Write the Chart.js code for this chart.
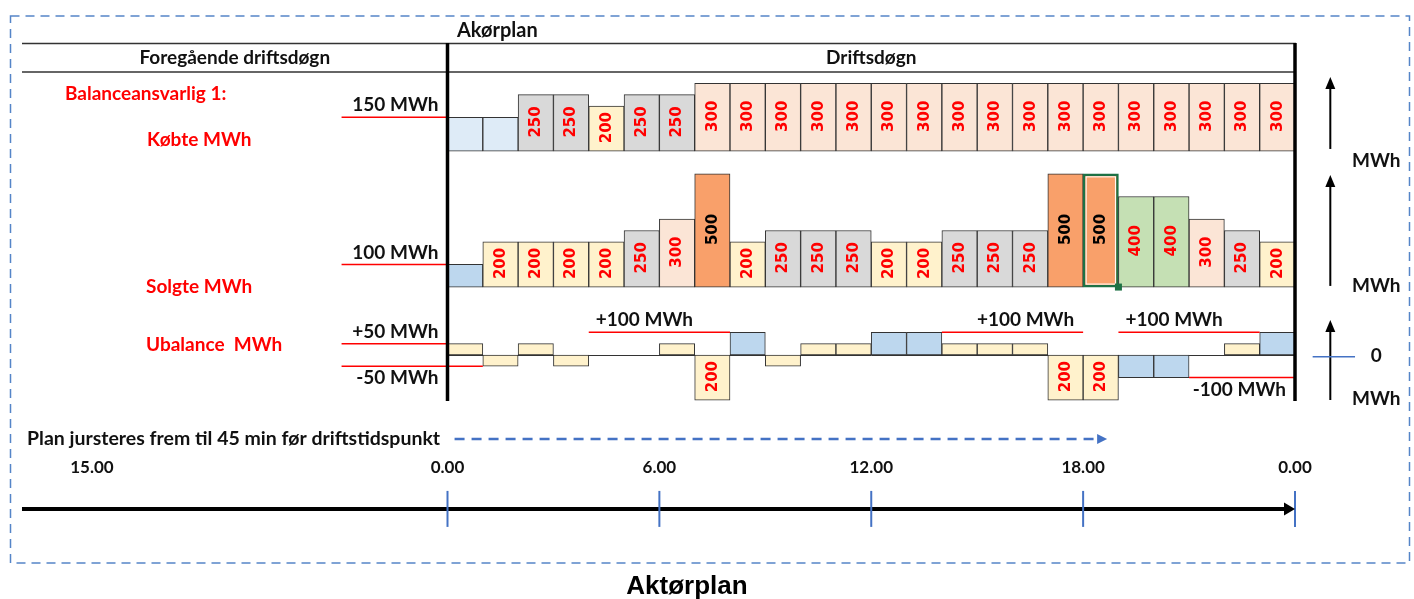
<!DOCTYPE html>
<html>
<head>
<meta charset="utf-8">
<title>Aktørplan</title>
<script src="https://cdn.jsdelivr.net/npm/chart.js@4.4.0/dist/chart.umd.min.js"></script>
<style>
  html, body { margin: 0; padding: 0; background: #fff; }
  #wrap { position: relative; width: 1414px; height: 599px; }
</style>
</head>
<body>
<div id="wrap"><canvas id="plan" width="1414" height="599"></canvas></div>
<script>
// timer i driftsdøgnet
const hours = ['1','2','3','4','5','6','7','8','9','10','11','12',
               '13','14','15','16','17','18','19','20','21','22','23','24'];

// MWh per time
const kobte    = [150,150,250,250,200,250,250,300,300,300,300,300,300,300,300,300,300,300,300,300,300,300,300,300];
const solgte   = [100,200,200,200,200,250,300,500,200,250,250,250,200,200,250,250,250,500,500,400,400,300,250,200];
const ubalance = [50,-50,50,-50,0,0,50,-200,100,-50,50,50,100,100,50,50,50,-200,-200,-100,-100,0,50,100];
const selectedHour = 19;

// referanselinjer: rad, nivå, fra/til time, tekst
const refLines = [
  { row: 'kobte',    level: 150,  from: -3, to: 0,  text: '150 MWh',  at: 0,  align: 'right', side: 'above' },
  { row: 'solgte',   level: 100,  from: -3, to: 0,  text: '100 MWh',  at: 0,  align: 'right', side: 'above' },
  { row: 'ubalance', level: 50,   from: -3, to: 0,  text: '+50 MWh',  at: 0,  align: 'right', side: 'above' },
  { row: 'ubalance', level: -50,  from: -3, to: 1,  text: '-50 MWh',  at: 0,  align: 'right', side: 'below' },
  { row: 'ubalance', level: 100,  from: 4,  to: 8,  text: '+100 MWh', at: 4,  align: 'left',  side: 'above' },
  { row: 'ubalance', level: 100,  from: 14, to: 18, text: '+100 MWh', at: 18, align: 'right', side: 'above' },
  { row: 'ubalance', level: 100,  from: 19, to: 23, text: '+100 MWh', at: 19, align: 'left',  side: 'above' },
  { row: 'ubalance', level: -100, from: 21, to: 24, text: '-100 MWh', at: 24, align: 'right', side: 'below' }
];

// tidslinje
const timeTicks  = [-10.07, 0, 6, 12, 18, 24];
const timeLabels = ['15.00', '0.00', '6.00', '12.00', '18.00', '0.00'];
const planUntil  = 18.68;

// plassering av radene på felles y-akse
const ROW_BASE = { kobte: 900, solgte: 300, ubalance: 0 };
const TIMELINE_Y = -680, TICKLABEL_Y = -495, PLAN_Y = -371;

const FONT = '"Lato", "Open Sans", sans-serif';
const RED = '#ff0000';
const BLUE = '#4472c4';
const EDGE = '#333333';

const colKobte = { 150: '#deebf7', 200: '#fff2cc', 250: '#d9d9d9', 300: '#fbe5d6' };
const colSolgte = { 100: '#bdd7ee', 200: '#fff2cc', 250: '#d9d9d9', 300: '#fbe5d6', 400: '#c5e0b4', 500: '#f9a06a' };
const colUbal = { 50: '#fff2cc', 100: '#bdd7ee', 200: '#fff2cc' };

function barSet(values, base, colors, extra) {
  return Object.assign({
    type: 'bar',
    data: values.map(v => v === 0 ? null : [base, base + v]),
    backgroundColor: values.map(v => colors[Math.abs(v)]),
    borderColor: EDGE,
    borderWidth: 1,
    borderSkipped: false,
    barPercentage: 1,
    categoryPercentage: 1,
    grouped: false,
    order: 5
  }, extra);
}

function line(ctx, x1, y1, x2, y2) {
  ctx.beginPath(); ctx.moveTo(x1, y1); ctx.lineTo(x2, y2); ctx.stroke();
}
function arrowHead(ctx, x, y, angle, len, half) {
  ctx.save(); ctx.translate(x, y); ctx.rotate(angle);
  ctx.beginPath(); ctx.moveTo(0, 0); ctx.lineTo(-len, -half); ctx.lineTo(-len, half); ctx.closePath(); ctx.fill();
  ctx.restore();
}
function text(ctx, s, x, y, font, color, align, maxW) {
  ctx.font = font; ctx.fillStyle = color; ctx.textAlign = align || 'left'; ctx.textBaseline = 'middle';
  if (maxW) ctx.fillText(s, x, y, maxW); else ctx.fillText(s, x, y);
}

const decor = {
  id: 'decor',
  beforeDatasetsDraw(chart) {
    const { ctx, scales: { y, xt } } = chart;
    ctx.save();
    ctx.strokeStyle = EDGE; ctx.lineWidth = 1;
    const y0 = Math.round(y.getPixelForValue(ROW_BASE.ubalance)) + 0.5;
    line(ctx, xt.getPixelForValue(0), y0, xt.getPixelForValue(24), y0);
    ctx.restore();
  },
  afterDatasetsDraw(chart) {
    const { ctx, scales: { y, xt } } = chart;
    ctx.save();
    // verdier i søylene
    [kobte, solgte, ubalance].forEach((vals, di) => {
      const meta = chart.getDatasetMeta(di);
      vals.forEach((v, i) => {
        if (Math.abs(v) < 200) return;
        const el = meta.data[i];
        ctx.save();
        ctx.translate(el.x + 0.5, (el.y + el.base) / 2 - 1);
        ctx.rotate(-Math.PI / 2);
        text(ctx, String(Math.abs(v)), 0, 0, 'bold 15px "DejaVu Sans"', v === 500 ? '#000' : RED, 'center');
        ctx.restore();
      });
    });
    // markert celle
    const sel = chart.getDatasetMeta(1).data[selectedHour - 1];
    const half = sel.width / 2;
    const top = Math.min(sel.y, sel.base), bot = Math.max(sel.y, sel.base);
    ctx.strokeStyle = '#fff'; ctx.lineWidth = 1;
    ctx.strokeRect(sel.x - half + 3, top + 3, half * 2 - 6, bot - top - 6);
    ctx.fillStyle = '#1e7145';
    ctx.fillRect(sel.x + half - 3.5, bot - 3.5, 7, 7);

    // referanselinjer
    refLines.forEach(r => {
      const py = y.getPixelForValue(ROW_BASE[r.row] + r.level);
      ctx.strokeStyle = RED; ctx.lineWidth = 1.5;
      line(ctx, xt.getPixelForValue(r.from), py, xt.getPixelForValue(r.to), py);
      const ax = xt.getPixelForValue(r.at) + (r.align === 'left' ? 7 : -9);
      const ty = r.side === 'above' ? py - 12 : py + 12;
      text(ctx, r.text, ax, ty, 'bold 19px ' + FONT, '#111', r.align);
    });
    ctx.restore();
  },
  afterDraw(chart) {
    const { ctx, scales: { y, xt } } = chart;
    ctx.save();
    const xL = xt.getPixelForValue(0), xR = xt.getPixelForValue(24);

    // ytre stiplet ramme
    ctx.strokeStyle = '#5585c8'; ctx.lineWidth = 1.5; ctx.setLineDash([9, 6]);
    ctx.strokeRect(10.5, 16, 1399, 547);
    ctx.setLineDash([]);

    // tabellhode
    ctx.strokeStyle = '#333'; ctx.lineWidth = 1.5;
    line(ctx, 22, 43.5, xR + 1, 43.5);
    line(ctx, 22, 72, xR + 1, 72);
    ctx.strokeStyle = '#000'; ctx.lineWidth = 3.5;
    line(ctx, xL, 43, xL, y.getPixelForValue(-203));
    line(ctx, xR, 43, xR, y.getPixelForValue(-203));
    text(ctx, 'Akørplan', 457, 31, 'bold 20px ' + FONT, '#111', 'left');
    text(ctx, 'Foregående driftsdøgn', (22 + xL) / 2, 58, 'bold 19px ' + FONT, '#111', 'center');
    text(ctx, 'Driftsdøgn', (xL + xR) / 2, 58, 'bold 19px ' + FONT, '#111', 'center');

    // radtitler
    const bf = 'bold 19px ' + FONT;
    text(ctx, 'Balanceansvarlig 1:', 65, 94, bf, RED);
    text(ctx, 'Købte MWh', 147, 140, bf, RED);
    text(ctx, 'Solgte MWh', 146, 287, bf, RED);
    text(ctx, 'Ubalance  MWh', 146, 345, bf, RED);

    // piler til høyre
    const ax = xt.getPixelForValue(25);
    ctx.strokeStyle = '#000'; ctx.fillStyle = '#000'; ctx.lineWidth = 2;
    [[910, 1228], [305, 795], [-199, 155]].forEach(([a, b]) => {
      line(ctx, ax, y.getPixelForValue(a), ax, y.getPixelForValue(b) + 10);
      ctx.fillStyle = '#000';
      arrowHead(ctx, ax, y.getPixelForValue(b), -Math.PI / 2, 12, 5);
    });
    const lx = xt.getPixelForValue(26.3);
    text(ctx, 'MWh', lx, y.getPixelForValue(857), bf, '#111', 'center');
    text(ctx, 'MWh', lx, y.getPixelForValue(305), bf, '#111', 'center');
    text(ctx, 'MWh', lx, y.getPixelForValue(-194), bf, '#111', 'center');
    ctx.strokeStyle = BLUE; ctx.lineWidth = 1.5;
    const zy = y.getPixelForValue(-8);
    line(ctx, xt.getPixelForValue(24.5), zy, xt.getPixelForValue(25.7), zy);
    text(ctx, '0', xt.getPixelForValue(26.3), y.getPixelForValue(-4), bf, '#111', 'center');

    // tidslinje
    ctx.fillStyle = '#000';
    arrowHead(ctx, xt.getPixelForValue(24), y.getPixelForValue(TIMELINE_Y), 0, 11, 6.5);
    ctx.fillStyle = BLUE;
    arrowHead(ctx, xt.getPixelForValue(planUntil), y.getPixelForValue(PLAN_Y), 0, 10, 5);
    timeTicks.forEach((t, i) => {
      text(ctx, timeLabels[i], xt.getPixelForValue(t), y.getPixelForValue(TICKLABEL_Y), 'bold 17px ' + FONT, '#111', 'center');
    });
    text(ctx, 'Plan jursteres frem til 45 min før driftstidspunkt', 27, y.getPixelForValue(PLAN_Y),
         'bold 19.5px ' + FONT, '#111', 'left', 414);

    // tittel
    text(ctx, 'Aktørplan', 687, 587, 'bold 26px "Liberation Sans", Arial, sans-serif', '#000', 'center');
    ctx.restore();
  }
};

new Chart(document.getElementById('plan'), {
  type: 'bar',
  data: {
    labels: hours,
    datasets: [
      barSet(kobte, ROW_BASE.kobte, colKobte),
      barSet(solgte, ROW_BASE.solgte, colSolgte, {
        borderColor: ctx => ctx.dataIndex === selectedHour - 1 ? '#1e7145' : EDGE,
        borderWidth: ctx => ctx.dataIndex === selectedHour - 1 ? 2.5 : 1
      }),
      barSet(ubalance, ROW_BASE.ubalance, colUbal),
      {
        type: 'line',
        xAxisID: 'xt',
        data: [{ x: -12.05, y: TIMELINE_Y }, { x: 23.75, y: TIMELINE_Y }],
        borderColor: '#000',
        borderWidth: 4,
        pointRadius: 0,
        clip: false,
        order: 2
      },
      {
        type: 'scatter',
        xAxisID: 'xt',
        data: timeTicks.map(t => ({ x: t, y: TIMELINE_Y })),
        pointStyle: 'line',
        pointRotation: 90,
        pointRadius: 18,
        pointBorderWidth: 2,
        pointBorderColor: BLUE,
        clip: false,
        order: 1
      },
      {
        type: 'line',
        xAxisID: 'xt',
        data: [{ x: 0.2, y: PLAN_Y }, { x: planUntil - 0.2, y: PLAN_Y }],
        borderColor: BLUE,
        borderWidth: 2.5,
        borderDash: [10, 7],
        pointRadius: 0,
        clip: false,
        order: 1
      }
    ]
  },
  options: {
    responsive: false,
    animation: false,
    devicePixelRatio: 1,
    events: [],
    layout: { padding: { left: 447.5, right: 119, top: 72, bottom: 58.4 } },
    scales: {
      x: { display: false },
      xt: { type: 'linear', display: false, min: 0, max: 24, offset: false },
      y: { display: false, min: -820, max: 1250 }
    },
    plugins: {
      legend: { display: false },
      tooltip: { enabled: false },
      title: { display: false }
    }
  },
  plugins: [decor]
});
</script>
</body>
</html>
